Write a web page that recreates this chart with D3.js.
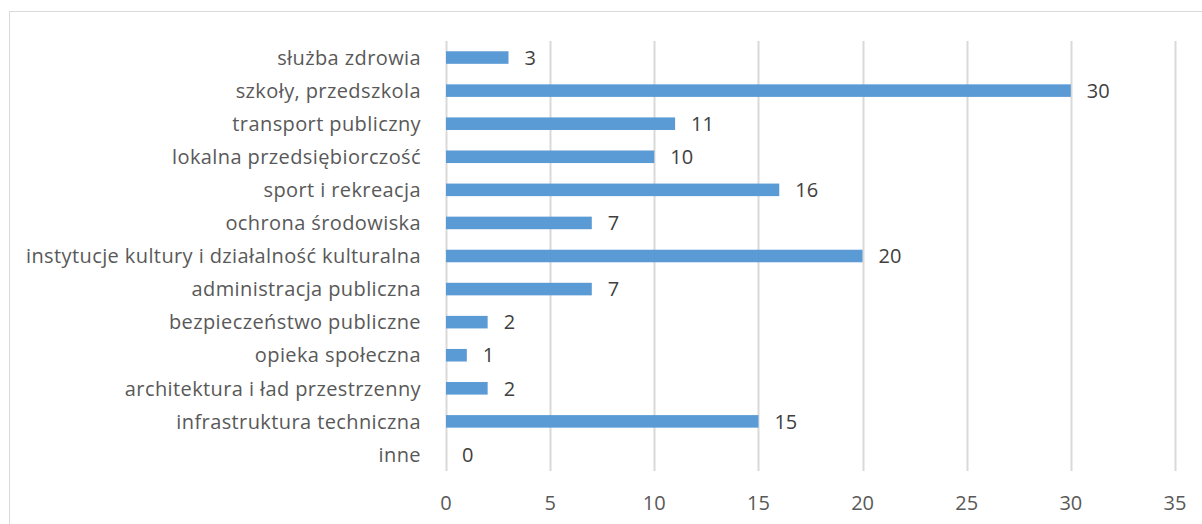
<!DOCTYPE html>
<html><head><meta charset="utf-8">
<script src="https://cdn.jsdelivr.net/npm/d3@7"></script>
<style>body{margin:0;background:#fff;}svg{display:block;}</style>
</head><body>
<svg id="c" width="1202" height="524"></svg>
<script>
const categories = ["służba zdrowia","szkoły, przedszkola","transport publiczny","lokalna przedsiębiorczość","sport i rekreacja","ochrona środowiska","instytucje kultury i działalność kulturalna","administracja publiczna","bezpieczeństwo publiczne","opieka społeczna","architektura i ład przestrzenny","infrastruktura techniczna","inne"];
const values = [3,30,11,10,16,7,20,7,2,1,2,15,0];
const xTicks = [0,5,10,15,20,25,30,35];

const svg = d3.select("#c");
const font = "'Open Sans', sans-serif";
svg.append("rect").attr("x",9.5).attr("y",11.5).attr("width",1300).attr("height",600)
  .attr("fill","#fff").attr("stroke","#d9d9d9").attr("stroke-width",1);

const x = d3.scaleLinear().domain([0,35]).range([446,1175]);
const y = d3.scaleBand().domain(categories).range([41,471]).paddingInner(0.62).paddingOuter(0.31);

const g = svg.append("g");
g.selectAll("line.grid").data(xTicks).join("line")
  .attr("x1",d=>Math.round(x(d))+0.5).attr("x2",d=>Math.round(x(d))+0.5)
  .attr("y1",41).attr("y2",471).attr("stroke","#d9d9d9").attr("stroke-width",2);

g.selectAll("rect.bar").data(values).join("rect")
  .attr("x",x(0)).attr("y",(d,i)=>y(categories[i]))
  .attr("width",d=>x(d)-x(0)).attr("height",y.bandwidth()).attr("fill","#5B9BD5");

g.selectAll("text.val").data(values).join("text")
  .attr("x",d=>x(d)+16).attr("y",(d,i)=>y(categories[i])+y.bandwidth()/2)
  .attr("dy","0.36em").attr("font-family",font).attr("font-size",20).attr("fill","#404040")
  .text(d=>d);

g.selectAll("text.cat").data(categories).join("text")
  .attr("x",421).attr("y",d=>y(d)+y.bandwidth()/2).attr("dy","0.36em")
  .attr("text-anchor","end").attr("font-family",font).attr("font-size",20)
  .attr("letter-spacing","0.4px").attr("fill","#595959")
  .text(d=>d);

g.selectAll("text.tick").data(xTicks).join("text")
  .attr("x",d=>x(d)).attr("y",503).attr("dy","0.36em").attr("text-anchor","middle")
  .attr("font-family",font).attr("font-size",20).attr("fill","#595959").text(d=>d);
</script>
</body></html>
